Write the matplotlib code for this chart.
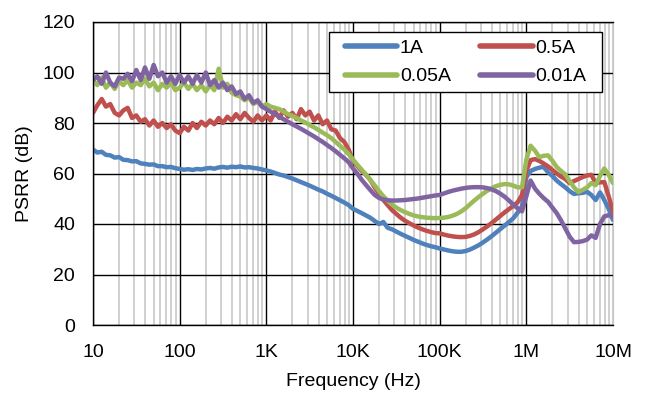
import matplotlib
matplotlib.use("Agg")
import matplotlib.pyplot as plt
from matplotlib.path import Path
from matplotlib.ticker import FixedLocator, NullFormatter

plt.rcParams['font.family'] = ['Liberation Sans', 'DejaVu Sans']

# sweep grid: 20 points per decade, 10 Hz .. 10 MHz
MANTISSA = [1.0, 1.12, 1.26, 1.41, 1.58, 1.78, 2.0, 2.24, 2.51, 2.82,
            3.16, 3.55, 3.98, 4.47, 5.01, 5.62, 6.31, 7.08, 7.94, 8.91]
DECADES = [10, 100, 1e3, 1e4, 1e5, 1e6]
freq = [m * d for d in DECADES for m in MANTISSA] + [1e7]

psrr_1a = [
    69.5, 68.3, 68.6, 67.4, 67.2, 66.3, 66.5, 65.4, 65.3, 64.8, 64.9, 64.0, 63.8, 63.5, 63.6, 62.9, 62.9, 62.5, 62.6, 62.1,
    61.8, 61.5, 61.7, 61.4, 61.8, 61.6, 62.0, 62.2, 61.9, 62.4, 62.6, 62.3, 62.7, 62.5, 62.8, 62.4, 62.5, 62.2, 62.0, 61.6,
    61.2, 60.8, 60.2, 59.6, 59.2, 58.6, 58.0, 57.3, 56.6, 55.9, 55.2, 54.4, 53.6, 52.9, 52.0, 51.2, 50.3, 49.4, 48.5, 47.5,
    46.0, 45.2, 44.3, 43.4, 42.5, 41.2, 40.0, 40.8, 38.5, 37.9, 37.0, 36.1, 35.3, 34.5, 33.7, 33.0, 32.3, 31.7, 31.2, 30.8,
    30.3, 29.9, 29.5, 29.2, 29.0, 29.0, 29.3, 29.9, 30.7, 31.6, 32.7, 33.9, 35.2, 36.6, 38.0, 39.4, 40.8, 42.3, 44.5, 47.0,
    58.5, 61.0, 61.8, 62.3, 62.6, 60.5, 59.0, 57.2, 55.8, 54.5, 53.0, 51.9, 52.2, 52.3, 52.8, 51.5, 49.5, 52.5, 49.5, 46.0,
    41.6]

psrr_05a = [
    84.0, 87.0, 89.5, 86.5, 87.5, 84.0, 83.0, 85.0, 86.0, 82.0, 83.0, 80.5, 81.5, 79.0, 81.0, 78.5, 80.0, 78.0, 79.5, 77.0,
    76.0, 78.5, 77.0, 80.0, 78.0, 80.5, 79.0, 81.0, 79.5, 82.0, 80.0, 82.5, 81.0, 83.5, 81.5, 84.0, 82.0, 80.5, 83.0, 81.0,
    83.0, 81.0, 84.5, 82.0, 85.0, 82.5, 84.0, 81.5, 85.5, 83.0, 84.5, 81.0, 83.0, 79.5, 81.0, 77.5, 77.0, 74.0, 72.5, 69.5,
    65.0, 63.0, 61.0, 59.5, 57.5, 54.5, 52.0, 49.5, 47.5, 45.5, 44.0, 42.5, 41.3, 40.3, 39.4, 38.6, 37.9, 37.3, 36.8, 36.4,
    36.3, 35.8, 35.4, 35.1, 34.9, 34.8, 34.9, 35.3, 35.9, 36.8, 37.9, 39.1, 40.4, 41.8, 43.2, 44.6, 45.9, 47.2, 48.6, 51.5,
    61.0, 65.3, 65.7, 65.0, 64.0, 62.8, 61.4, 60.0, 58.8, 57.8, 56.2, 57.0, 57.8, 58.6, 59.2, 59.5, 56.2, 56.5, 56.6, 51.0,
    44.8]

psrr_005a = [
    97.0, 95.0, 98.0, 94.0, 96.0, 93.5, 96.5, 95.0, 97.0, 94.0, 96.0, 95.0, 97.5, 94.5, 96.0, 93.0, 95.5, 94.0, 96.0, 93.0,
    94.0, 96.0, 93.5, 95.5, 93.0, 95.0, 92.5, 95.0, 93.0, 101.5, 94.0, 95.5, 92.0, 91.0, 90.5, 89.0, 90.0, 87.5, 88.5, 86.5,
    87.5, 86.5, 86.0, 85.5, 84.5, 83.5, 82.8, 82.0, 81.0, 80.2, 79.2, 78.3, 77.3, 76.2, 75.2, 74.0, 72.5, 71.0, 69.5, 67.7,
    65.5, 63.5, 61.5, 59.5, 57.5, 55.3, 53.0, 51.0, 49.2, 47.7, 46.5, 45.5, 44.7, 44.0, 43.4, 43.0, 42.7, 42.5, 42.4, 42.3,
    42.4, 42.5, 42.8, 43.3, 44.0, 45.0, 46.3, 47.8, 49.3, 50.7, 52.0, 53.2, 54.2, 55.0, 55.5, 55.8, 55.7, 55.2, 54.5, 54.5,
    65.5, 71.0, 69.0, 66.5, 67.0, 67.2, 65.0, 62.6, 61.0, 59.6, 57.0, 54.5, 52.7, 53.5, 54.5, 56.2, 55.4, 59.0, 62.0, 59.5,
    56.2]

psrr_001a = [
    97.0, 98.5, 95.5, 100.0, 96.0, 94.5, 98.0, 97.5, 99.5, 96.5, 101.0, 97.0, 102.0, 97.5, 103.0, 98.5, 100.0, 96.0, 98.5, 95.5,
    99.0, 96.0, 98.5, 95.5, 99.0, 96.0, 100.0, 95.0, 97.0, 94.0, 96.0, 93.0, 94.5, 91.5, 92.5, 89.5, 91.0, 88.0, 89.0, 86.5,
    85.5, 84.5, 83.5, 82.5, 81.5, 80.5, 79.5, 78.6, 77.7, 76.7, 75.7, 74.7, 73.6, 72.5, 71.3, 70.1, 68.8, 67.4, 66.0, 64.5,
    62.0, 60.0, 57.5, 55.5, 53.5, 51.5, 50.3, 49.7, 49.4, 49.3, 49.3, 49.4, 49.5, 49.7, 49.9, 50.1, 50.4, 50.7, 51.0, 51.3,
    51.5, 52.1, 52.7, 53.2, 53.6, 54.0, 54.3, 54.5, 54.6, 54.6, 54.5, 54.2, 53.7, 53.0, 52.0, 50.8, 49.3, 47.6, 46.2, 45.0,
    51.0, 57.2, 54.0, 52.0, 50.3, 48.8, 46.5, 44.3, 41.5, 38.2, 35.0, 32.8, 32.9, 33.2, 33.8, 35.5, 34.5, 40.0, 43.0, 43.5,
    42.8]

series_names = ['1A', '0.5A', '0.05A', '0.01A']
series_colors = ['#4F81BD', '#C0504D', '#9BBB59', '#8064A2']
series_values = [psrr_1a, psrr_05a, psrr_005a, psrr_001a]

x_ticks = [10, 100, 1e3, 1e4, 1e5, 1e6, 1e7]
x_tick_labels = ['10', '100', '1K', '10K', '100K', '1M', '10M']
y_ticks = [0, 20, 40, 60, 80, 100, 120]

FS = 14

fig = plt.figure(figsize=(6.47, 3.96), dpi=100)
ax = fig.add_axes([93 / 647, 1 - 325 / 396, 520 / 647, 303 / 396])

ax.set_xscale('log')
ax.set_xlim(10, 1e7)
ax.set_ylim(0, 120)

minor = [m * d for d in DECADES for m in range(2, 10)]
ax.xaxis.set_major_locator(FixedLocator(x_ticks))
ax.xaxis.set_minor_locator(FixedLocator(minor))
ax.xaxis.set_minor_formatter(NullFormatter())
ax.set_xticks(x_ticks)
ax.set_xticklabels(x_tick_labels)
ax.set_yticks(y_ticks)

ax.grid(which='minor', axis='x', color='#C8C8C8', linewidth=1.2)
ax.grid(which='major', axis='both', color='black', linewidth=1.0)
ax.set_axisbelow(True)

handles = {}
for name, color, vals in zip(series_names, series_colors, series_values):
    h, = ax.plot(freq, vals, color=color, linewidth=3.2, label=name,
                 solid_joinstyle='round', solid_capstyle='round')
    handles[name] = h

for side in ['top', 'left', 'bottom']:
    ax.spines[side].set_color('black')
    ax.spines[side].set_linewidth(1.0)
ax.spines['right'].set_color('#C8C8C8')

ax.tick_params(axis='both', which='both', length=0, labelsize=FS, colors='black')
ax.tick_params(axis='y', pad=13)
ax.tick_params(axis='x', pad=14)

ax.set_xlabel('Frequency (Hz)', fontsize=FS, labelpad=8)
ax.set_ylabel('PSRR (dB)', fontsize=FS, labelpad=7)


def wide_box(x0, y0, width, height, mutation_size):
    # legend frame with extra horizontal padding (Excel-like)
    dx = 0.46 * mutation_size
    xa, xb = x0 - dx, x0 + width + dx
    ya, yb = y0, y0 + height
    return Path([(xa, ya), (xb, ya), (xb, yb), (xa, yb), (xa, ya)],
                [Path.MOVETO, Path.LINETO, Path.LINETO, Path.LINETO, Path.CLOSEPOLY])


# row-major legend order: (1A, 0.5A) / (0.05A, 0.01A)
order = ['1A', '0.05A', '0.5A', '0.01A']
leg = ax.legend([handles[n] for n in order], order, loc='upper right', ncol=2,
                fontsize=FS, frameon=True, fancybox=False, edgecolor='black',
                framealpha=1.0, handlelength=2.7, handletextpad=0.15,
                columnspacing=1.5, borderpad=0.36, labelspacing=0.58,
                borderaxespad=0.0, bbox_to_anchor=(0.9625, 0.967))
leg.get_frame().set_linewidth(1.0)
leg.get_frame().set_boxstyle(wide_box)
for line in leg.get_lines():
    line.set_linewidth(4.0)
    line.set_solid_capstyle('round')

fig.savefig('out.png', dpi=100)
